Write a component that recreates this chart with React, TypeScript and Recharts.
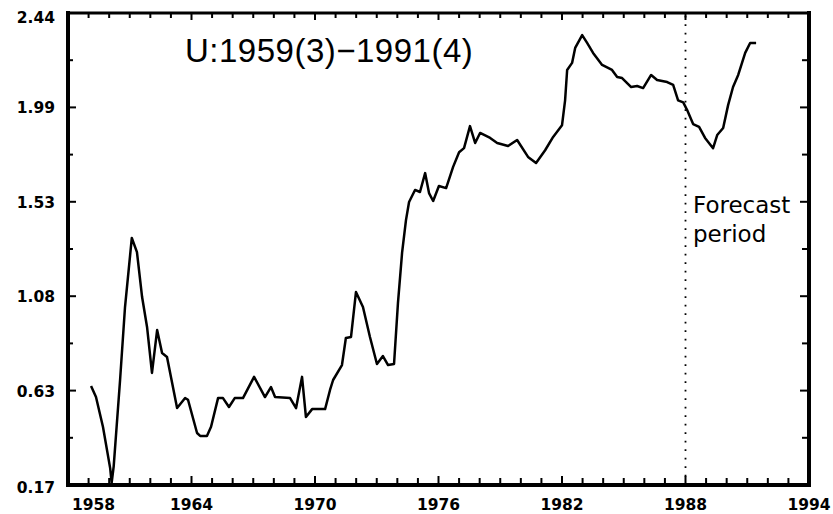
import React from 'react';
import { LineChart, Line, XAxis, YAxis, ReferenceLine, Customized } from 'recharts';

const years = [
  1959.12, 1959.36, 1959.7, 1960.05, 1960.12, 1960.22, 1960.53, 1960.77, 1961.1, 1961.35,
  1961.6, 1961.84, 1962.08, 1962.33, 1962.57, 1962.81, 1963.3, 1963.69, 1963.83, 1964.27,
  1964.42, 1964.75, 1964.95, 1965.29, 1965.53, 1965.82, 1966.1, 1966.5, 1967.04, 1967.57,
  1967.86, 1968.06, 1968.79, 1969.08, 1969.37, 1969.56, 1969.86, 1970.49, 1970.73, 1970.88,
  1971.31, 1971.5, 1971.75, 1971.99, 1972.33, 1972.67, 1973.01, 1973.3, 1973.55, 1973.84,
  1974.03, 1974.23, 1974.42, 1974.57, 1974.86, 1975.1, 1975.35, 1975.54, 1975.74, 1976.02,
  1976.37, 1976.71, 1977.0, 1977.24, 1977.53, 1977.78, 1978.02, 1978.51, 1978.85, 1979.38,
  1979.82, 1980.35, 1980.74, 1981.18, 1981.57, 1982.0, 1982.15, 1982.25, 1982.49, 1982.64,
  1982.98, 1983.22, 1983.51, 1983.95, 1984.43, 1984.68, 1984.92, 1985.36, 1985.65, 1985.94,
  1986.33, 1986.62, 1987.11, 1987.4, 1987.64, 1987.89, 1988.08, 1988.37, 1988.66, 1988.95,
  1989.34, 1989.54, 1989.83, 1990.07, 1990.31, 1990.56, 1990.9, 1991.14, 1991.43,
];

const uValues = [
  0.646, 0.593, 0.449, 0.25, 0.18, 0.26, 0.675, 1.026, 1.358, 1.29,
  1.074, 0.93, 0.709, 0.915, 0.805, 0.786, 0.54, 0.588, 0.58, 0.42,
  0.406, 0.406, 0.45, 0.588, 0.588, 0.545, 0.588, 0.588, 0.69, 0.593,
  0.641, 0.593, 0.588, 0.54, 0.69, 0.497, 0.535, 0.535, 0.627, 0.675,
  0.747, 0.877, 0.882, 1.098, 1.026, 0.882, 0.752, 0.79, 0.747, 0.752,
  1.045, 1.286, 1.444, 1.531, 1.589, 1.579, 1.67, 1.574, 1.536, 1.608,
  1.598, 1.7, 1.77, 1.79, 1.896, 1.815, 1.863, 1.839, 1.815, 1.8,
  1.829, 1.748, 1.719, 1.78, 1.844, 1.9, 2.02, 2.166, 2.2, 2.272,
  2.334, 2.296, 2.248, 2.19, 2.166, 2.132, 2.127, 2.084, 2.089, 2.079,
  2.142, 2.118, 2.108, 2.094, 2.02, 2.01, 1.973, 1.906, 1.892, 1.839,
  1.79, 1.853, 1.887, 1.997, 2.084, 2.142, 2.248, 2.296, 2.296,
];

const xMajorTicks = [1958, 1964, 1970, 1976, 1982, 1988, 1994];
const yTickLabels = ['0.17', '0.63', '1.08', '1.53', '1.99', '2.44'];
const Y_MIN = 0.17;
const Y_MAX = 2.44;
const forecastStart = 1988;
const annotation = 'U:1959(3)\u22121991(4)';
const forecastLabel = ['Forecast', 'period'];

const data = years.map((t, i) => ({ t, u: uValues[i] }));

const xTicks: number[] = [];
for (let yr = xMajorTicks[0]; yr <= xMajorTicks[xMajorTicks.length - 1]; yr++) xTicks.push(yr);

const ySteps = (yTickLabels.length - 1) * 2;
const yStep = (Y_MAX - Y_MIN) / ySteps;
const yTicks = Array.from({ length: ySteps + 1 }, (_, k) => +(Y_MIN + k * yStep).toFixed(4));

const tickFont = { fontFamily: 'DejaVu Sans', fontWeight: 'bold' as const, fontSize: 15.5 };

const isMajorX = (v: number) => xMajorTicks.includes(v);
const yIndex = (v: number) => Math.round((v - Y_MIN) / yStep);

const BottomTick = (p: any) => {
  const { x, y, payload } = p;
  const v = payload.value;
  const major = isMajorX(v);
  const first = v === xMajorTicks[0];
  return (
    <g>
      <line x1={x} x2={x} y1={y} y2={y - (major ? 9 : 7)} stroke="#000" strokeWidth={2} />
      {major && (
        <text x={first ? x + 4 : x} y={y + 25} textAnchor={first ? 'start' : 'middle'} fill="#000" {...tickFont}>
          {v}
        </text>
      )}
    </g>
  );
};

const TopTick = (p: any) => {
  const { x, y, payload } = p;
  const major = isMajorX(payload.value);
  return <line x1={x} x2={x} y1={y} y2={y + (major ? 7 : 5)} stroke="#000" strokeWidth={2} />;
};

const LeftTick = (p: any) => {
  const { x, y, payload } = p;
  const k = yIndex(payload.value);
  const major = k % 2 === 0;
  const dy = k === ySteps ? 10 : k === 0 ? 8 : 6;
  return (
    <g>
      <line x1={x} x2={x + (major ? 8 : 5)} y1={y} y2={y} stroke="#000" strokeWidth={2} />
      {major && (
        <text x={x - 13} y={y + dy} textAnchor="end" fill="#000" {...tickFont}>
          {yTickLabels[k / 2]}
        </text>
      )}
    </g>
  );
};

const RightTick = (p: any) => {
  const { x, y, payload } = p;
  const k = yIndex(payload.value);
  const major = k % 2 === 0;
  return <line x1={x} x2={x - (major ? 9 : 7)} y1={y} y2={y} stroke="#000" strokeWidth={2} />;
};

const Annotations = () => (
  <g>
    <text x={185} y={62} fontFamily="Liberation Sans" fontSize={33} letterSpacing={0.5} fill="#000">
      {annotation}
    </text>
    <text x={693} y={213} fontFamily="DejaVu Sans" fontSize={23} fill="#000">
      {forecastLabel[0]}
    </text>
    <text x={693} y={242} fontFamily="DejaVu Sans" fontSize={23} fill="#000">
      {forecastLabel[1]}
    </text>
  </g>
);

const frame = { stroke: '#000', strokeLinecap: 'square' as const };

export default function App() {
  return (
    <div style={{ position: 'absolute', left: 0, top: 0, width: 833, height: 514, overflow: 'hidden', background: '#fff' }}>
      <LineChart width={833} height={514} data={data} margin={{ top: 12, right: 23, bottom: 0, left: 8 }}>
        <XAxis
          xAxisId="b"
          type="number"
          dataKey="t"
          domain={[xMajorTicks[0], xMajorTicks[xMajorTicks.length - 1]]}
          ticks={xTicks}
          interval={0}
          allowDataOverflow
          height={29}
          tickSize={0}
          tickMargin={0}
          tickLine={false}
          axisLine={{ ...frame, strokeWidth: 4 }}
          tick={(p: any) => <BottomTick {...p} />}
        />
        <XAxis
          xAxisId="t"
          orientation="top"
          type="number"
          dataKey="t"
          domain={[xMajorTicks[0], xMajorTicks[xMajorTicks.length - 1]]}
          ticks={xTicks}
          interval={0}
          allowDataOverflow
          height={1}
          tickSize={0}
          tickMargin={0}
          tickLine={false}
          axisLine={{ ...frame, strokeWidth: 3 }}
          tick={(p: any) => <TopTick {...p} />}
        />
        <YAxis
          yAxisId="l"
          type="number"
          domain={[Y_MIN, Y_MAX]}
          ticks={yTicks}
          interval={0}
          allowDataOverflow
          width={60}
          tickSize={0}
          tickMargin={0}
          tickLine={false}
          axisLine={{ ...frame, strokeWidth: 4 }}
          tick={(p: any) => <LeftTick {...p} />}
        />
        <YAxis
          yAxisId="r"
          orientation="right"
          type="number"
          domain={[Y_MIN, Y_MAX]}
          ticks={yTicks}
          interval={0}
          allowDataOverflow
          width={1}
          tickSize={0}
          tickMargin={0}
          tickLine={false}
          axisLine={{ ...frame, strokeWidth: 4 }}
          tick={(p: any) => <RightTick {...p} />}
        />
        <ReferenceLine
          xAxisId="b"
          yAxisId="l"
          x={forecastStart}
          stroke="#000"
          strokeWidth={1.8}
          strokeDasharray="1.8 6.7"
        />
        <Line
          xAxisId="t"
          yAxisId="r"
          dataKey="u"
          type="linear"
          dot={false}
          activeDot={false}
          stroke="none"
          legendType="none"
          isAnimationActive={false}
        />
        <Line
          xAxisId="b"
          yAxisId="l"
          dataKey="u"
          type="linear"
          dot={false}
          stroke="#000"
          strokeWidth={2.5}
          strokeLinejoin="round"
          isAnimationActive={false}
        />
        <Customized component={<Annotations />} />
      </LineChart>
    </div>
  );
}
